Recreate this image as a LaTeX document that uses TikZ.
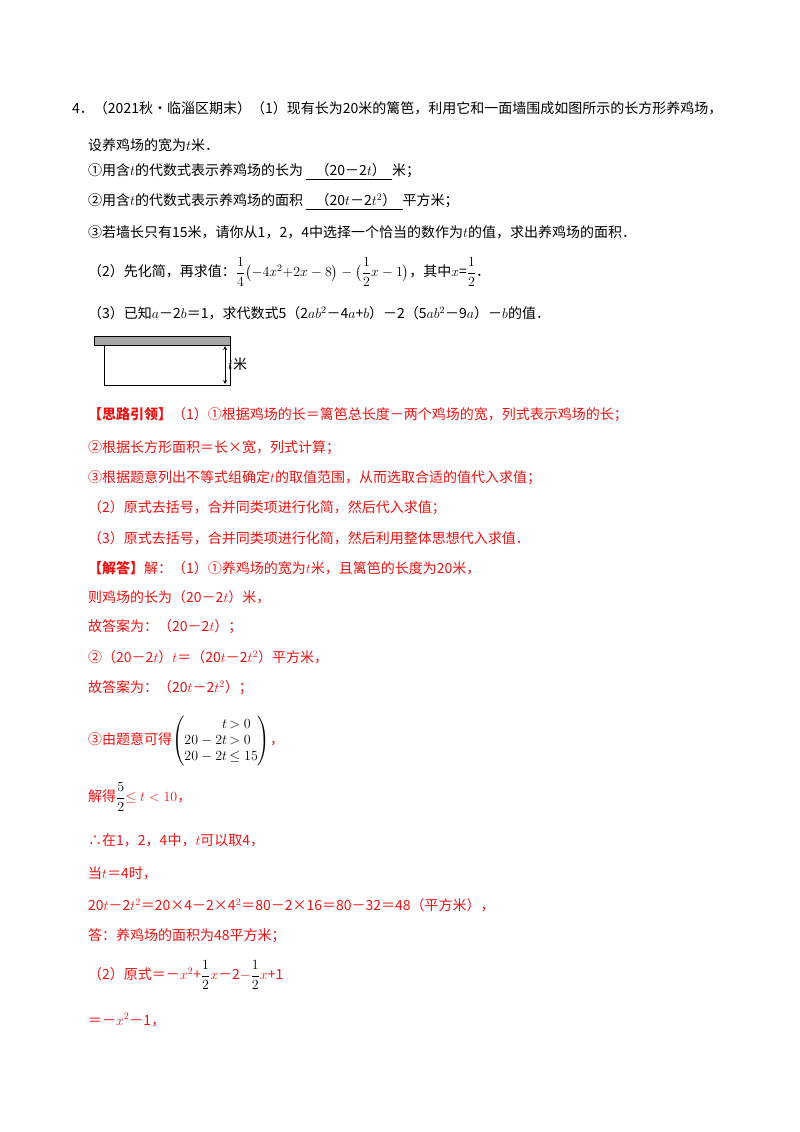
\documentclass[tikz,border=0pt]{standalone}
\usepackage{fix-cm}
\usepackage{amsmath,amssymb}
\usepackage{fontspec}
\setmainfont{Noto Sans CJK SC}
\DeclareMathSizes{14}{14}{10}{8}
\definecolor{ans}{RGB}{235,20,20}
\begin{document}
\begin{tikzpicture}[x=1pt,y=-1pt,
  t/.style={anchor=west,inner sep=0pt,font=\fontsize{14}{16}\selectfont},
  r/.style={t,text=ans}]
\useasboundingbox (0,0) rectangle (800,1132);
\fill[white] (0,0) rectangle (800,1132);
\node[t] (l1) at (72,108) {4．（2021秋•临淄区期末）（1）现有长为20米的篱笆，利用它和一面墙围成如图所示的长方形养鸡场，};
\node[t] (l2) at (88,145) {设养鸡场的宽为$t$米．};
\node[t] (l3) at (88,172) {①用含$t$的代数式表示养鸡场的长为\ \underline{\ \ \ （20－2$t$）\ \ }米；};
\node[t] (l4) at (88,202) {②用含$t$的代数式表示养鸡场的面积\ \underline{\ \ \ （20$t$－2$t^2$）\ \ }平方米；};
\node[t] (l5) at (88,232) {③若墙长只有15米，请你从1，2，4中选择一个恰当的数作为$t$的值，求出养鸡场的面积．};
\node[t] (l6) at (88,272) {（2）先化简，再求值：$\dfrac14\bigl(-4x^2{+}2x-8\bigr)-\bigl(\dfrac12x-1\bigr)$，其中$x$=$\dfrac12$．};
\node[t] (l7) at (88,313) {（3）已知$a$－2$b$＝1，求代数式5（2$ab^2$－4$a$+$b$）－2（5$ab^2$－9$a$）－$b$的值．};
\fill[gray!70,draw=black] (94,336) rectangle (230,345);
\draw[thick] (104,345) -- (104,385) -- (230,385) -- (230,345);
\coordinate (ta) at (225,346); \coordinate (tb) at (225,384);
\draw[<->,>=stealth,thick] (ta) -- (tb);
\node[t] (tl) at (228,364) {$t$米};
\node[r] (a1) at (88,415) {\textbf{【思路引领】}（1）①根据鸡场的长＝篱笆总长度－两个鸡场的宽，列式表示鸡场的长；};
\node[r] (a2) at (88,448) {②根据长方形面积＝长×宽，列式计算；};
\node[r] (a3) at (88,478) {③根据题意列出不等式组确定$t$的取值范围，从而选取合适的值代入求值；};
\node[r] (a4) at (88,508) {（2）原式去括号，合并同类项进行化简，然后代入求值；};
\node[r] (a5) at (88,538) {（3）原式去括号，合并同类项进行化简，然后利用整体思想代入求值．};
\node[r] (a6) at (88,568) {\textbf{【解答】}解：（1）①养鸡场的宽为$t$米，且篱笆的长度为20米，};
\node[r] (a7) at (88,597) {则鸡场的长为（20－2$t$）米，};
\node[r] (a8) at (88,627) {故答案为：（20－2$t$）；};
\node[r] (a9) at (88,657) {②（20－2$t$）$t$＝（20$t$－2$t^2$）平方米，};
\node[r] (a10) at (88,688) {故答案为：（20$t$－2$t^2$）；};
\node[r] (a11) at (88,741) {③由题意可得{\color{black}$\left(\begin{array}{@{}r@{\,}l@{}}t&>0\\20-2t&>0\\20-2t&\le15\end{array}\right)$}，};
\node[r] (a12) at (88,797) {解得{\color{black}$\dfrac52$}$\le t<10$，};
\node[r] (a13) at (88,840) {∴在1，2，4中，$t$可以取4，};
\node[r] (a14) at (88,873) {当$t$＝4时，};
\node[r] (a15) at (88,905) {20$t$－2$t^2$＝20×4－2×4$^2$＝80－2×16＝80－32＝48（平方米），};
\node[r] (a16) at (88,936) {答：养鸡场的面积为48平方米；};
\node[r] (a17) at (88,975) {（2）原式＝－$x^2$+{\color{black}$\dfrac12$}$x$－2$-${\color{black}$\dfrac12$}$x$+1};
\node[r] (a18) at (88,1020) {＝－$x^2$－1，};
\end{tikzpicture}
\end{document}
